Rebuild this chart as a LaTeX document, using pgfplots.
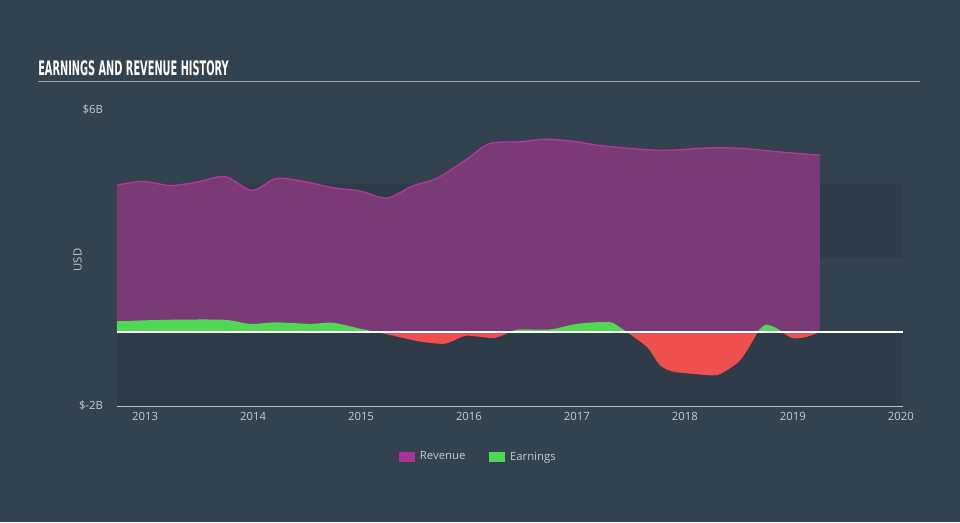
\documentclass[border=0pt]{standalone}
\usepackage{pgfplots}
\pgfplotsset{compat=1.18}
\usepackage{fontspec}
\setmainfont{Open Sans}
\newfontfamily\titlefont{DejaVu Sans}[FakeStretch=0.49]
\definecolor{bg}{HTML}{33424F}
\definecolor{band}{HTML}{2E3C4A}
\definecolor{revfill}{HTML}{7A3A75}
\definecolor{revline}{HTML}{B4369E}
\definecolor{revkey}{HTML}{A8349A}
\definecolor{earnpos}{HTML}{52D655}
\definecolor{earnneg}{HTML}{EE5050}
\definecolor{txt}{HTML}{C5CBD1}
\definecolor{axisgray}{HTML}{B8C0C8}
\definecolor{titleline}{HTML}{9AA3AB}
\begin{document}
\begin{tikzpicture}[x=1pt,y=1pt]
\fill[bg] (0,0) rectangle (720,391.5);
\node[anchor=base west, inner sep=0, text=white, font=\titlefont\bfseries\fontsize{15}{16}\selectfont] at (28.5,334.5) {EARNINGS AND REVENUE HISTORY};
\draw[titleline, line width=1.1pt] (28.5,330.5) -- (690,330.5);
\begin{axis}[
  at={(87.75pt,87pt)}, anchor=south west,
  scale only axis, width=589.5pt, height=222pt,
  xmin=2012.74, xmax=2020.02, ymin=-2, ymax=6,
  axis x line*=bottom, axis y line*=left,
  y axis line style={draw=none},
  x axis line style={axisgray, line width=0.9pt},
  xtick={2013,2014,2015,2016,2017,2018,2019,2020},
  xticklabels={2013,2014,2015,2016,2017,2018,2019,2020},
  xtick align=inside, major tick length=4pt,
  xtick style={axisgray, line width=0.8pt},
  ytick={-2,6}, yticklabels={\$-2B,\$6B},
  ytick style={draw=none},
  tick label style={text=txt, font=\fontsize{8.5}{10}\selectfont},
  yticklabel style={xshift=-7pt},
  xticklabel style={yshift=-1pt},
  ylabel={USD},
  ylabel style={at={(axis description cs:-0.05,0.493)}, anchor=center, text=txt, font=\fontsize{8.5}{10}\selectfont},
  legend style={at={(rel axis cs:0.462,-0.172)}, anchor=center, draw=none, fill=none, text=txt, font=\fontsize{8.5}{10}\selectfont, legend columns=2, /tikz/every even column/.append style={column sep=14pt}, nodes={inner xsep=4pt}},
  legend image code/.code={\fill[#1] (0pt,-3.8pt) rectangle (11.5pt,4pt);},
  clip=false,
]
\fill[band] (axis cs:2012.74,-2) rectangle (axis cs:2020.02,0);
\fill[band] (axis cs:2012.74,2) rectangle (axis cs:2020.02,4);
\addlegendimage{fill=revkey, draw=none}
\addlegendentry{Revenue}
\addlegendimage{fill=earnpos, draw=none}
\addlegendentry{Earnings}
% revenue
\addplot[fill=revfill, draw=none, smooth, tension=0.5, forget plot] coordinates {
(2012.74,3.97) (2012.98,4.07) (2013.23,3.96) (2013.48,4.05) (2013.74,4.20) (2013.99,3.83) (2014.22,4.15) (2014.50,4.05) (2014.74,3.90) (2014.99,3.81) (2015.24,3.62) (2015.48,3.95) (2015.70,4.15) (2015.98,4.67) (2016.19,5.09) (2016.47,5.14) (2016.72,5.21) (2017.00,5.14) (2017.24,5.03) (2017.77,4.91) (2018.26,4.98) (2018.57,4.95) (2018.94,4.85) (2019.25,4.78)
} \closedcycle;
\addplot[revline, line width=1pt, smooth, tension=0.5, forget plot] coordinates {
(2012.74,3.97) (2012.98,4.07) (2013.23,3.96) (2013.48,4.05) (2013.74,4.20) (2013.99,3.83) (2014.22,4.15) (2014.50,4.05) (2014.74,3.90) (2014.99,3.81) (2015.24,3.62) (2015.48,3.95) (2015.70,4.15) (2015.98,4.67) (2016.19,5.09) (2016.47,5.14) (2016.72,5.21) (2017.00,5.14) (2017.24,5.03) (2017.77,4.91) (2018.26,4.98) (2018.57,4.95) (2018.94,4.85) (2019.25,4.78)
};
% earnings positive
\addplot[fill=earnpos, draw=none, smooth, tension=0.5, forget plot] coordinates {
(2012.74,0.29) (2013.20,0.33) (2013.73,0.33) (2013.97,0.22) (2014.22,0.26) (2014.53,0.22) (2014.74,0.25) (2014.99,0.09) (2015.15,0)
} \closedcycle;
\addplot[fill=earnpos, draw=none, smooth, tension=0.5, forget plot] coordinates {
(2016.38,0) (2016.47,0.07) (2016.75,0.07) (2017.00,0.22) (2017.24,0.27) (2017.33,0.25) (2017.46,0)
} \closedcycle;
\addplot[fill=earnpos, draw=none, smooth, tension=0.5, forget plot] coordinates {
(2018.67,0) (2018.75,0.20) (2018.85,0.10) (2018.90,0)
} \closedcycle;
% earnings negative
\addplot[fill=earnneg, draw=none, smooth, tension=0.5, forget plot] coordinates {
(2015.15,0) (2015.36,-0.14) (2015.55,-0.26) (2015.76,-0.32) (2015.85,-0.24) (2015.98,-0.10) (2016.23,-0.16) (2016.38,0)
} \closedcycle;
\addplot[fill=earnneg, draw=none, smooth, tension=0.5, forget plot] coordinates {
(2017.46,0) (2017.65,-0.41) (2017.77,-0.90) (2017.89,-1.07) (2018.07,-1.13) (2018.26,-1.17) (2018.35,-1.10) (2018.51,-0.77) (2018.63,-0.23) (2018.67,0)
} \closedcycle;
\addplot[fill=earnneg, draw=none, smooth, tension=0.5, forget plot] coordinates {
(2018.90,0) (2019.00,-0.17) (2019.13,-0.13) (2019.25,0)
} \closedcycle;
% zero line
\addplot[white, line width=1pt, forget plot] coordinates {(2012.74,0) (2020.02,0)};
\end{axis}
\end{tikzpicture}
\end{document}
